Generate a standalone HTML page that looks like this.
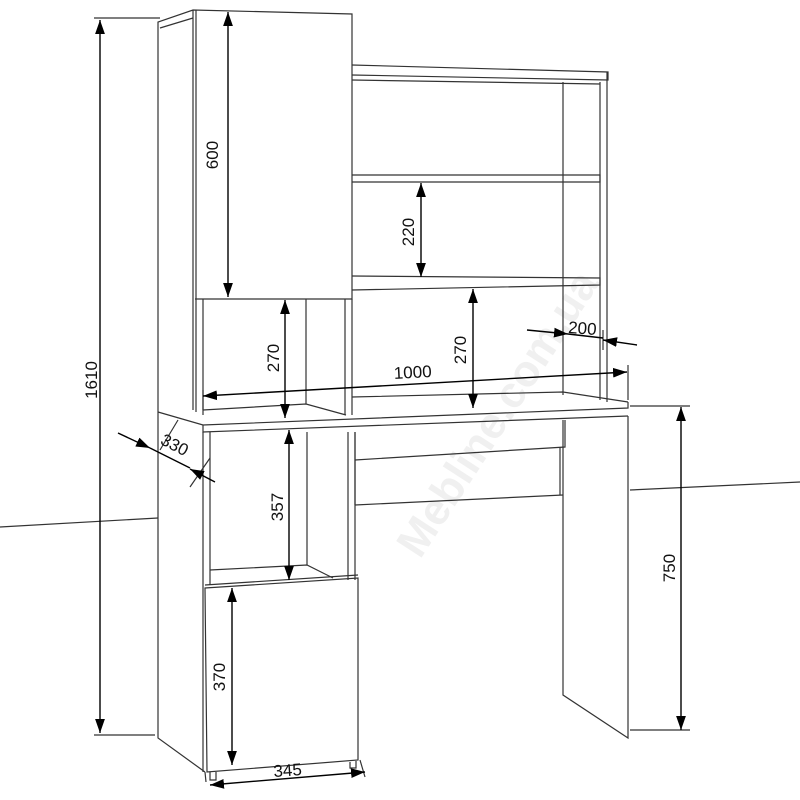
<!DOCTYPE html>
<html><head><style>html,body{margin:0;padding:0;background:#fff}svg{display:block}text{font-family:"Liberation Sans",Arial,sans-serif;font-size:17px;fill:#111}</style></head>
<body>
<svg width="800" height="800" viewBox="0 0 800 800" xmlns="http://www.w3.org/2000/svg">
<defs>
<marker id="a" viewBox="0 0 10 10" refX="10" refY="5" markerWidth="14" markerHeight="14" markerUnits="userSpaceOnUse" orient="auto-start-reverse"><path d="M0,1.5 L10,5 L0,8.5z" fill="#000"/></marker>
</defs>
<text x="0" y="0" transform="translate(420,560) rotate(-57)" style="font-size:44px;fill:#f0f0f0;font-weight:bold">Mebline.com.ua</text>
<g stroke="#333" stroke-width="1.2" fill="none">
<line x1="0" y1="527" x2="158" y2="518"/><line x1="630" y1="490" x2="800" y2="482"/>
<path d="M158,420 L158,22 L193,10 L352,14 L352,299 L195,299"/>
<path d="M160,28 L193,18"/><line x1="193" y1="10" x2="193" y2="410"/><line x1="196" y1="10" x2="196" y2="412"/>
<line x1="203" y1="299" x2="203" y2="415"/>
<line x1="306" y1="299" x2="306" y2="404"/><path d="M203,410 L306,404 L346,415"/>
<line x1="345" y1="299" x2="345" y2="415"/><line x1="352" y1="299" x2="352" y2="415"/>
<path d="M352,65 L608,72 L608,80 L352,75"/><line x1="352" y1="80" x2="600" y2="84"/>
<line x1="563" y1="82" x2="563" y2="395"/><line x1="600" y1="82" x2="600" y2="400"/><line x1="607" y1="72" x2="607" y2="402"/>
<path d="M352,175 L600,175 L600,182 L352,182"/>
<path d="M352,276 L600,278 L600,285 L352,290"/>
<path d="M352,397 L563,392 L628,402"/>
<path d="M158,412 L203,425 L628,408 L628,402"/><path d="M203,425 L203,432 L628,416"/>
<path d="M628,416 L628,738 L563,695 L563,420"/>
<path d="M355,432 L355,505"/><path d="M565,420 L565,447 L355,460"/><line x1="355" y1="505" x2="563" y2="495"/>
<line x1="560" y1="447" x2="560" y2="495"/>
<path d="M158,420 L158,738 L205,772"/>
<line x1="203" y1="432" x2="203" y2="772"/><line x1="210" y1="432" x2="210" y2="585"/>
<line x1="307" y1="432" x2="307" y2="565"/><line x1="348" y1="432" x2="348" y2="580"/><line x1="355" y1="432" x2="355" y2="580"/>
<path d="M210,570 L307,565 L333,578"/>
<path d="M205,588 L358,578 L358,760 L207,772 Z"/><line x1="205" y1="585" x2="358" y2="575"/>
<path d="M210,772 L210,780 L216,780 L216,772"/><path d="M350,762 L350,768 L356,768 L356,761"/>
<line x1="94" y1="18" x2="160" y2="18"/><line x1="94" y1="735" x2="155" y2="735"/>
<line x1="630" y1="406" x2="690" y2="406"/><line x1="630" y1="730" x2="690" y2="730"/>
<line x1="203" y1="390" x2="203" y2="410"/><line x1="628" y1="365" x2="628" y2="400"/>
<line x1="160" y1="450" x2="178" y2="420"/><line x1="190" y1="487" x2="210" y2="458"/><line x1="206" y1="782" x2="205" y2="772"/><line x1="365" y1="777" x2="360" y2="760"/>
<line x1="603" y1="330" x2="603" y2="350"/>
</g>
<g stroke="#000" stroke-width="1.4" fill="none">
<line x1="100" y1="20" x2="100" y2="733" marker-start="url(#a)" marker-end="url(#a)"/>
<line x1="228" y1="12" x2="228" y2="297" marker-start="url(#a)" marker-end="url(#a)"/>
<line x1="421" y1="183" x2="421" y2="277" marker-start="url(#a)" marker-end="url(#a)"/>
<line x1="473" y1="289" x2="473" y2="408" marker-start="url(#a)" marker-end="url(#a)"/>
<line x1="285" y1="300" x2="285" y2="418" marker-start="url(#a)" marker-end="url(#a)"/>
<line x1="289" y1="430" x2="289" y2="580" marker-start="url(#a)" marker-end="url(#a)"/>
<line x1="232" y1="588" x2="232" y2="765" marker-start="url(#a)" marker-end="url(#a)"/>
<line x1="681" y1="407" x2="681" y2="730" marker-start="url(#a)" marker-end="url(#a)"/>
<line x1="203" y1="396" x2="627" y2="372" marker-start="url(#a)" marker-end="url(#a)"/>
<line x1="210" y1="785" x2="365" y2="772" marker-start="url(#a)" marker-end="url(#a)"/>
<line x1="527" y1="330" x2="568" y2="334" marker-end="url(#a)"/>
<line x1="568" y1="334" x2="603" y2="338"/>
<line x1="637" y1="345" x2="603" y2="340" marker-end="url(#a)"/>
<line x1="118" y1="433" x2="150" y2="448" marker-end="url(#a)"/>
<line x1="150" y1="448" x2="190" y2="468"/>
<line x1="215" y1="482" x2="190" y2="469" marker-end="url(#a)"/>
</g>
<text transform="translate(97,380) rotate(-90)" text-anchor="middle">1610</text>
<text transform="translate(218,155) rotate(-90)" text-anchor="middle">600</text>
<text transform="translate(414,232) rotate(-90)" text-anchor="middle">220</text>
<text transform="translate(466,350) rotate(-90)" text-anchor="middle">270</text>
<text transform="translate(279,358) rotate(-90)" text-anchor="middle">270</text>
<text transform="translate(283,507) rotate(-90)" text-anchor="middle">357</text>
<text transform="translate(225,677) rotate(-90)" text-anchor="middle">370</text>
<text transform="translate(675,568) rotate(-90)" text-anchor="middle">750</text>
<text transform="translate(413,378) rotate(-3)" text-anchor="middle">1000</text>
<text transform="translate(582,334) rotate(4)" text-anchor="middle">200</text>
<text transform="translate(172,450) rotate(27)" text-anchor="middle">330</text>
<text transform="translate(288,776) rotate(-4)" text-anchor="middle">345</text>
</svg>
</body></html>
